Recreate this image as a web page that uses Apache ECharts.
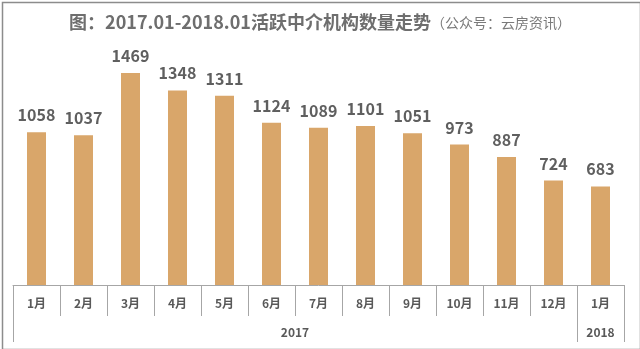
<!DOCTYPE html>
<html>
<head>
<meta charset="utf-8">
<style>html,body{margin:0;padding:0;background:#fff;}#c{width:640px;height:349px;}</style>
<script src="https://cdn.jsdelivr.net/npm/echarts@6/dist/echarts.min.js"></script>
</head>
<body>
<div id="c"></div>
<script>
var months = ['1月','2月','3月','4月','5月','6月','7月','8月','9月','10月','11月','12月','1月'];
var years = ['', '', '', '', '', '2017', '', '', '', '', '', '', '2018'];
var counts = [1058, 1037, 1469, 1348, 1311, 1124, 1089, 1101, 1051, 973, 887, 724, 683];
var titleMain = '图：2017.01-2018.01活跃中介机构数量走势';
var titleSub = '（公众号：云房资讯）';

var chart = echarts.init(document.getElementById('c'));
var font = '"Noto Sans CJK SC", "Noto Sans", sans-serif';
chart.setOption({
  animation: false,
  graphic: [{
    type: 'rect', left: 0, top: 0,
    shape: {x: 0.75, y: 0.75, width: 638, height: 347},
    style: {fill: 'none', stroke: '#8c8c8c', lineWidth: 1.5}
  }],
  title: {
    text: '{a|' + titleMain + '}{b|' + titleSub + '}',
    left: 'center', top: 8,
    textStyle: {
      rich: {
        a: {fontSize: 18, fontWeight: 'bold', color: '#6e6e6e', fontFamily: font},
        b: {fontSize: 14, fontWeight: 'normal', color: '#7a7a7a', fontFamily: font, padding: [2, 0, 0, 0]}
      }
    }
  },
  grid: {left: 13, right: 16, top: 54, bottom: 64},
  xAxis: [{
    type: 'category', data: months, position: 'bottom',
    axisLine: {lineStyle: {color: '#a6a6a6', width: 1}},
    axisTick: {show: true, length: 31, lineStyle: {color: '#a6a6a6'}},
    axisLabel: {interval: 0, margin: 12, fontSize: 12, fontWeight: 'bold', color: '#595959', fontFamily: font}
  }, {
    type: 'category', data: years, position: 'bottom', gridIndex: 0,
    axisLine: {show: false},
    axisTick: {show: true, length: 57, lineStyle: {color: '#a6a6a6'},
      interval: function (i) { return i === 0 || i === 12; }},
    axisLabel: {
      interval: function (i) { return i === 5 || i === 12; },
      margin: 41, fontSize: 12, fontWeight: 'bold', color: '#595959', fontFamily: font,
      formatter: function (v, i) { return i === 5 ? '{s|' + v + '}' : v; },
      rich: {s: {padding: [0, 0, 0, 47], fontSize: 12, fontWeight: 'bold', color: '#595959', fontFamily: font}}
    }
  }],
  yAxis: {type: 'value', min: 0, max: 1600, show: false, splitLine: {show: false}},
  series: [{
    type: 'bar', xAxisIndex: 0, data: counts, barWidth: 19,
    itemStyle: {color: '#D9A66A'},
    label: {show: true, position: 'top', distance: 9, fontSize: 16, fontWeight: 'bold', color: '#5f5f5f', fontFamily: font}
  }]
});
</script>
</body>
</html>
